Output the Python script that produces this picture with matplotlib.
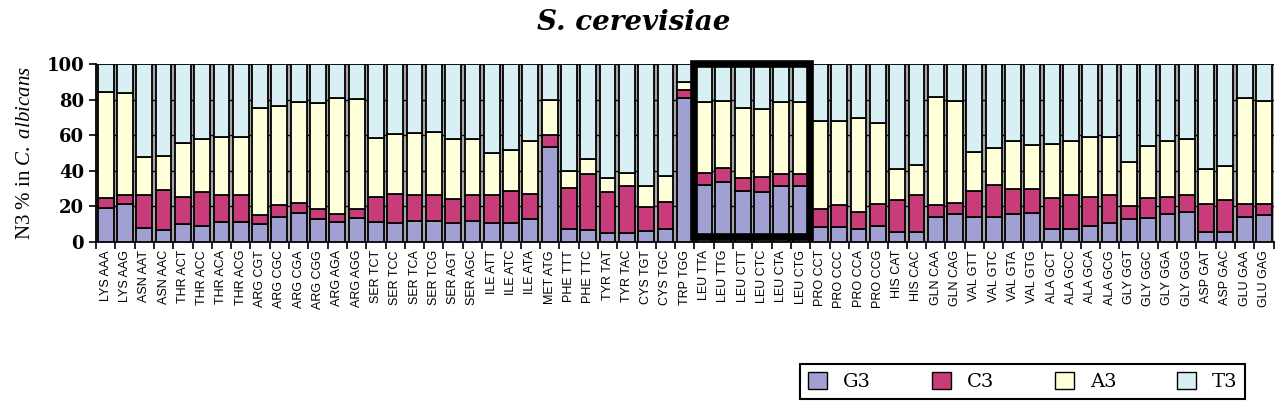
import matplotlib
matplotlib.use("Agg")
import matplotlib.pyplot as plt
from matplotlib.patches import Rectangle

plt.rcParams['mathtext.fontset'] = 'custom'
plt.rcParams['mathtext.rm'] = 'Liberation Serif'
plt.rcParams['mathtext.it'] = 'Liberation Serif:italic'

codons = ['LYS AAA', 'LYS AAG', 'ASN AAT', 'ASN AAC', 'THR ACT', 'THR ACC', 'THR ACA', 'THR ACG',
          'ARG CGT', 'ARG CGC', 'ARG CGA', 'ARG CGG', 'ARG AGA', 'ARG AGG',
          'SER TCT', 'SER TCC', 'SER TCA', 'SER TCG', 'SER AGT', 'SER AGC',
          'ILE ATT', 'ILE ATC', 'ILE ATA', 'MET ATG', 'PHE TTT', 'PHE TTC',
          'TYR TAT', 'TYR TAC', 'CYS TGT', 'CYS TGC', 'TRP TGG',
          'LEU TTA', 'LEU TTG', 'LEU CTT', 'LEU CTC', 'LEU CTA', 'LEU CTG',
          'PRO CCT', 'PRO CCC', 'PRO CCA', 'PRO CCG', 'HIS CAT', 'HIS CAC',
          'GLN CAA', 'GLN CAG', 'VAL GTT', 'VAL GTC', 'VAL GTA', 'VAL GTG',
          'ALA GCT', 'ALA GCC', 'ALA GCA', 'ALA GCG', 'GLY GGT', 'GLY GGC',
          'GLY GGA', 'GLY GGG', 'ASP GAT', 'ASP GAC', 'GLU GAA', 'GLU GAG']

g3 = [19.2, 21.2, 7.5, 6.4, 10.2, 9.0, 10.9, 10.9, 10.2, 14.1, 16.0, 12.6, 11.3, 13.5,
      10.9, 10.7, 11.7, 11.5, 10.7, 11.8, 10.7, 10.7, 12.6, 53.6, 7.2, 6.6, 5.1, 5.1,
      6.0, 7.2, 81.2, 32.1, 33.8, 28.7, 27.8, 31.4, 31.4, 8.1, 8.5, 7.2, 9.0, 5.6, 5.6,
      14.1, 15.4, 14.1, 14.1, 15.4, 16.0, 7.2, 7.2, 9.0, 10.4, 12.6, 13.5, 15.4, 16.6,
      5.6, 5.6, 14.1, 15.0]
c3 = [5.6, 5.1, 18.8, 22.6, 15.0, 18.8, 15.4, 15.4, 4.8, 6.6, 5.8, 5.8, 4.3, 4.9,
      14.5, 16.2, 14.5, 14.7, 13.5, 14.4, 15.5, 18.0, 14.3, 6.5, 23.2, 31.4, 22.7, 26.3,
      13.4, 15.3, 4.3, 6.8, 7.9, 7.4, 8.8, 6.6, 6.6, 10.2, 12.0, 9.7, 12.1, 17.9, 20.7,
      6.4, 6.6, 14.6, 17.9, 14.1, 13.5, 17.3, 19.1, 16.4, 15.9, 7.7, 11.0, 10.0, 9.7,
      15.5, 17.9, 7.0, 6.2]
a3 = [59.4, 57.7, 21.3, 19.3, 30.6, 29.9, 32.9, 32.9, 60.5, 55.6, 57.1, 59.6, 65.6, 61.9,
      32.9, 33.8, 34.9, 35.5, 33.5, 31.5, 23.6, 23.0, 30.0, 19.8, 9.6, 8.8, 8.3, 7.5,
      12.0, 14.5, 4.4, 39.7, 37.8, 39.3, 38.0, 40.9, 40.6, 49.7, 47.5, 52.6, 46.0, 17.5, 16.9,
      60.9, 57.5, 22.0, 20.6, 27.4, 25.0, 30.6, 30.5, 33.8, 32.9, 24.5, 29.6, 31.4, 31.4,
      19.7, 19.0, 60.1, 58.3]
t3 = [15.8, 16.0, 52.4, 51.7, 44.2, 42.3, 40.8, 40.8, 24.5, 23.7, 21.1, 22.0, 18.8, 19.7,
      41.7, 39.3, 38.9, 38.3, 42.3, 42.3, 50.2, 48.3, 43.1, 20.1, 60.0, 53.2, 63.9, 61.1,
      68.6, 63.0, 10.1, 21.4, 20.5, 24.6, 25.4, 21.1, 21.4, 32.0, 32.0, 30.5, 32.9, 59.0, 56.8,
      18.6, 20.5, 49.3, 47.4, 43.1, 45.5, 44.9, 43.2, 40.8, 40.8, 55.2, 45.9, 43.2, 42.3,
      59.2, 57.5, 18.8, 20.5]

series = [('G3', g3, '#a0a0d2'), ('C3', c3, '#c83c7a'),
          ('A3', a3, '#ffffda'), ('T3', t3, '#d8f0f4')]

fig = plt.figure(figsize=(12.8, 4.09), dpi=100)
ax = fig.add_axes([0.075, 0.409, 0.920, 0.434])
ax.set_facecolor('#a8a8a8')

x = list(range(len(codons)))
bottom = [0.0] * len(codons)
for name, vals, col in series:
    ax.bar(x, vals, bottom=bottom, width=0.82, color=col, edgecolor='black',
           linewidth=1.3, label=name, zorder=3)
    bottom = [b + v for b, v in zip(bottom, vals)]

ax.set_xlim(-0.5, len(codons) - 0.5)
ax.set_ylim(0, 100)
ax.set_yticks(range(0, 101, 20))
ax.yaxis.grid(True, color='black', linewidth=1)
ax.set_axisbelow(True)

ax.set_xticks(x)
ax.set_xticklabels(codons, rotation=90, family='Liberation Sans', fontsize=9)
ax.set_xticks([i - 0.5 for i in range(len(codons) + 1)], minor=True)
ax.tick_params(axis='x', which='major', length=0, pad=6)
ax.tick_params(axis='x', which='minor', length=5, width=1.2)
ax.tick_params(axis='y', length=5, width=1.2)
for lab in ax.get_yticklabels():
    lab.set_family('DejaVu Serif')
    lab.set_fontweight('bold')
    lab.set_fontsize(13)

for s in ['top', 'right']:
    ax.spines[s].set_visible(False)
for s in ['left', 'bottom']:
    ax.spines[s].set_linewidth(1.3)

ax.set_ylabel(r'N3 % in $C.\ albicans$', family='Liberation Serif', fontsize=15, labelpad=8)

# highlight of the LEU codons
i0 = codons.index('LEU TTA')
ax.add_patch(Rectangle((i0 - 0.5, 2.5), 6, 97.5, fill=False, edgecolor='black',
                       linewidth=5.5, clip_on=False, zorder=6))

fig.suptitle('S. cerevisiae', x=0.495, y=0.978, family='DejaVu Serif',
             fontweight='bold', style='italic', fontsize=20)

leg = fig.legend(loc='center', bbox_to_anchor=(0.625, 0.015, 0.348, 0.105), mode='expand',
                 ncol=4, fancybox=False, edgecolor='black', framealpha=1,
                 handlelength=1.0, handleheight=1.0, borderaxespad=0,
                 prop={'family': 'DejaVu Serif', 'size': 14})
leg.get_frame().set_linewidth(1.5)
for h in leg.legend_handles:
    h.set_linewidth(1.0)

fig.savefig('out.png', dpi=100)
